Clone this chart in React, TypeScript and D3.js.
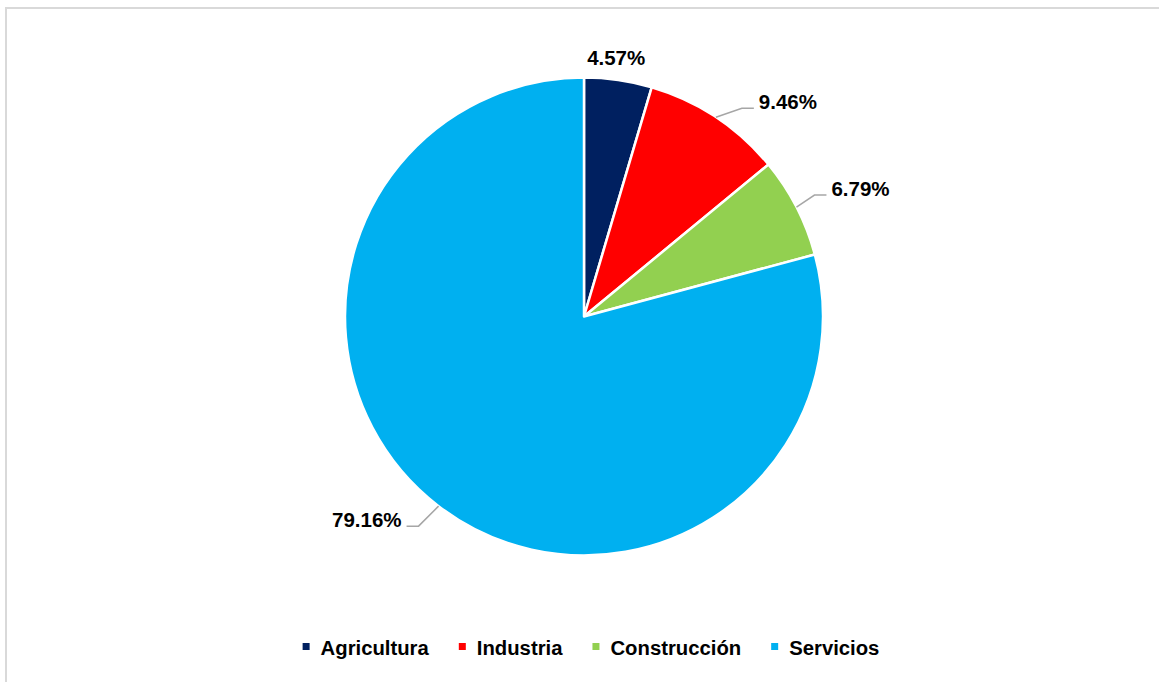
import React, { useEffect, useRef } from "react";
import * as d3 from "d3";

const categories = ["Agricultura", "Industria", "Construcción", "Servicios"];
const values = [4.57, 9.46, 6.79, 79.16];
const colors = ["#002060", "#FF0000", "#92D050", "#00B0F0"];

// layout for labels: elbow offset from slice edge, null = no leader
const labelLayout: ({ ex: number; ey: number; side: number } | null)[] = [
  null,
  { ex: 26, ey: -9, side: 1 },
  { ex: 18, ey: -12, side: 1 },
  { ex: -20, ey: 20, side: -1 },
];

const W = 1159;
const H = 682;
const CX = 584;
const CY = 316.5;
const R = 239;
const FONT = "'Liberation Sans', Arial, sans-serif";

export default function App() {
  const ref = useRef<SVGSVGElement | null>(null);

  useEffect(() => {
    const svg = d3.select(ref.current);
    svg.selectAll("*").remove();

    svg
      .append("rect")
      .attr("x", 6)
      .attr("y", 8)
      .attr("width", W + 20)
      .attr("height", H + 20)
      .attr("fill", "#fff")
      .attr("stroke", "#d9d9d9")
      .attr("stroke-width", 2);

    const data = categories.map((c, i) => ({ c, v: values[i], color: colors[i], i }));
    const pie = d3.pie<any>().sort(null).value((d) => d.v);
    const arcs = pie(data);
    const arc = d3.arc<any>().innerRadius(0).outerRadius(R);

    const g = svg.append("g").attr("transform", `translate(${CX},${CY})`);
    g.selectAll("path")
      .data(arcs)
      .enter()
      .append("path")
      .attr("d", arc as any)
      .attr("fill", (d: any) => d.data.color)
      .attr("stroke", "#fff")
      .attr("stroke-width", 2.5)
      .attr("stroke-linejoin", "round");

    const fmt = (v: number) => v.toFixed(2) + "%";

    arcs.forEach((a: any, i: number) => {
      const mid = (a.startAngle + a.endAngle) / 2;
      const px = R * Math.sin(mid);
      const py = -R * Math.cos(mid);
      const lay = labelLayout[i];
      if (!lay) {
        g.append("text")
          .attr("x", px - 2)
          .attr("y", py - 15)
          .attr("text-anchor", "middle")
          .attr("font-family", FONT)
          .attr("font-weight", "bold")
          .attr("font-size", 20.5)
          .attr("fill", "#000")
          .text(fmt(a.data.v));
      } else {
        const ex = px + lay.ex;
        const ey = py + lay.ey;
        const hx = ex + lay.side * 12;
        g.append("polyline")
          .attr("points", `${px},${py} ${ex},${ey} ${hx},${ey}`)
          .attr("fill", "none")
          .attr("stroke", "#a6a6a6")
          .attr("stroke-width", 1.5);
        g.append("text")
          .attr("x", hx + lay.side * 5)
          .attr("y", ey + 1)
          .attr("text-anchor", lay.side > 0 ? "start" : "end")
          .attr("font-family", FONT)
          .attr("font-weight", "bold")
          .attr("font-size", 20.5)
          .attr("fill", "#000")
          .text(fmt(a.data.v));
      }
    });

    // legend
    const lg = svg.append("g");
    const items = data.map((d) => {
      const it = lg.append("g");
      it.append("rect")
        .attr("width", 7)
        .attr("height", 7)
        .attr("y", 643)
        .attr("fill", d.color);
      const t = it
        .append("text")
        .attr("x", 18)
        .attr("y", 655)
        .attr("font-family", FONT)
        .attr("font-weight", "bold")
        .attr("font-size", 20.3)
        .attr("fill", "#000")
        .text(d.c);
      const w = (t.node() as SVGTextElement).getComputedTextLength();
      return { it, w: 18 + w };
    });
    const gap = 30;
    const total = items.reduce((s, x) => s + x.w, 0) + gap * (items.length - 1);
    let x = 591 - total / 2;
    items.forEach((o) => {
      o.it.attr("transform", `translate(${x},0)`);
      x += o.w + gap;
    });
  }, []);

  return (
    <svg
      ref={ref}
      width={W}
      height={H}
      style={{ position: "absolute", left: 0, top: 0, background: "#fff" }}
    />
  );
}
